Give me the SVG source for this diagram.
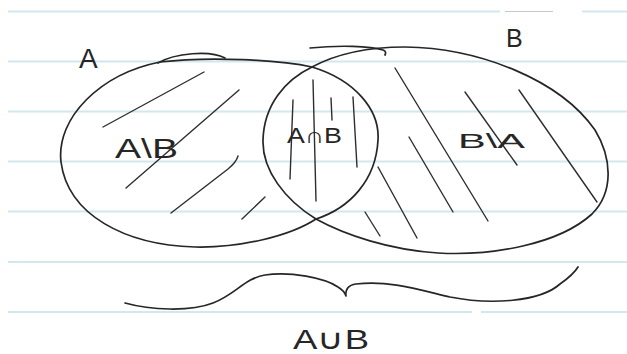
<svg xmlns="http://www.w3.org/2000/svg" width="627" height="354" viewBox="0 0 627 354">
<style>
.rule{stroke:#d3e7ee;stroke-width:2;fill:none}
.ink{stroke:#262626;stroke-width:1.7;fill:none;stroke-linecap:round;stroke-linejoin:round}
.hatch{stroke:#2e2e2e;stroke-width:1.4;fill:none;stroke-linecap:round}
.lbl{font-family:"Liberation Sans",Arial,sans-serif;fill:#262626;font-weight:normal}
</style>
<rect width="627" height="354" fill="#ffffff"/>
<g id="paper">
<path class="rule" d="M8 11.5H500M582 11.5H627M8 61.5H627M8 111.5H627M8 161.5H627M8 211.5H627M8 262H627M8 312H472M481 312H627"/>
<path d="M505 11.5H553" stroke="#c8c8c8" stroke-width="1" fill="none"/>
</g>
<g id="set-A">
<path class="ink" d="M160 62 C210 56 280 60 312 67 C355 80 380 110 378 140 C376 180 350 208 316 219 C290 236 240 248 195 247 C125 245 68 215 61 162 C56 118 100 74 160 62 Z"/>
<path class="ink" d="M158 63 C175 53 210 50 225 58"/>
<text class="lbl" x="79" y="68" font-size="28">A</text>
</g>
<g id="set-B">
<path class="ink" d="M312 67 C340 52 370 47 405 47 C480 48 560 80 595 130 C612 158 614 192 592 214 C558 245 490 256 438 253 C390 250 345 235 316 219 C285 200 262 170 263 140 C264 105 285 80 312 67 Z"/>
<path class="ink" d="M310 48 C340 45 370 46 383 50 C386 51 386 53 385 55"/>
<text class="lbl" x="506" y="47" font-size="25">B</text>
</g>
<g id="region-A-minus-B">
<path class="hatch" d="M103 127L204 72M126 188L239 90M171 213L228 169C234 164 237 160 238 156M242 219L265 197"/>
<text class="lbl" x="115" y="158" font-size="27" textLength="63" lengthAdjust="spacingAndGlyphs">A\B</text>
</g>
<g id="region-A-and-B">
<path class="hatch" d="M293 100L290 179M313 80L316 201M331 98L332 120M353 97L357 167"/>
<text class="lbl" x="287" y="143" font-size="22" textLength="55" lengthAdjust="spacingAndGlyphs">A∩B</text>
</g>
<g id="region-B-minus-A">
<path class="hatch" d="M395 68L488 221M409 137L453 212M378 167L417 238M365 212L380 236M465 92L517 165M519 90L597 202"/>
<text class="lbl" x="458" y="148" font-size="21" textLength="67" lengthAdjust="spacingAndGlyphs">B\A</text>
</g>
<g id="union-brace">
<path class="ink" d="M125 303 C150 310 190 312 213 303 C235 295 245 278 265 275 C290 271 325 278 338 287 C343 290 345 293 346 296 C345 290 348 285 356 284 C390 280 420 290 450 297 C490 305 540 302 560 284 C570 277 575 272 578 267"/>
<text class="lbl" x="293" y="349" font-size="28" textLength="76" lengthAdjust="spacingAndGlyphs">A∪B</text>
</g>
</svg>
